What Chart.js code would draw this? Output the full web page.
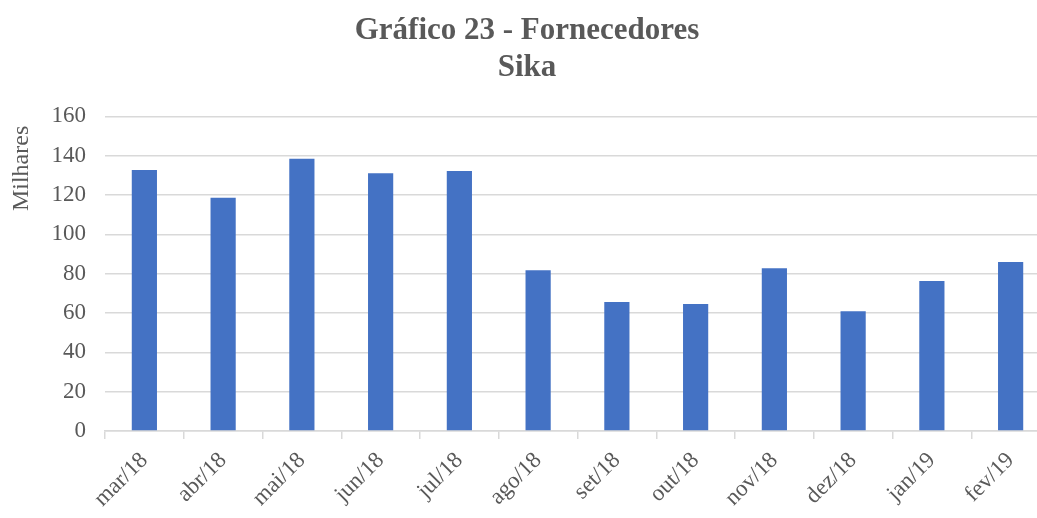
<!DOCTYPE html>
<html>
<head>
<meta charset="utf-8">
<script src="https://cdn.jsdelivr.net/npm/chart.js@4.4.0/dist/chart.umd.min.js"></script>
<style>
  html, body { margin: 0; padding: 0; background: #fff; overflow: hidden; }
  #wrap { width: 1054px; height: 518px; }
</style>
</head>
<body>
<div id="wrap"><canvas id="fornecedoresChart" width="1054" height="518"></canvas></div>
<script>
// dados do gráfico (milhares)
const meses = ['mar/18', 'abr/18', 'mai/18', 'jun/18', 'jul/18', 'ago/18',
               'set/18', 'out/18', 'nov/18', 'dez/18', 'jan/19', 'fev/19'];
const valores = [132.7, 118.6, 138.4, 131.1, 132.2, 81.8, 65.6, 64.6, 82.8, 60.9, 76.3, 86.0];
const tituloLinhas = ['Gráfico 23 - Fornecedores', 'Sika'];
const eixoY = { min: 0, max: 160, passo: 20, titulo: 'Milhares' };

const cinza = '#595959';
const grade = '#d9d9d9';
const fonte = "'Liberation Serif', 'DejaVu Serif', serif";

// rótulo de unidade "Milhares" perto do topo do eixo, como no Excel
const rotuloUnidade = {
    id: 'rotuloUnidade',
    afterDraw(chart) {
        const c = chart.ctx;
        const area = chart.chartArea;
        c.save();
        c.translate(22, area.top + 52);
        c.rotate(-Math.PI / 2);
        c.fillStyle = cinza;
        c.font = '24px ' + fonte;
        c.textAlign = 'center';
        c.textBaseline = 'middle';
        c.fillText(eixoY.titulo, 0, 0);
        c.restore();
    }
};

const ctx = document.getElementById('fornecedoresChart').getContext('2d');
new Chart(ctx, {
    type: 'bar',
    data: {
        labels: meses,
        datasets: [{
            label: 'Sika',
            data: valores,
            backgroundColor: '#4472c4',
            borderWidth: 0,
            barPercentage: 0.32,
            categoryPercentage: 1.0
        }]
    },
    plugins: [rotuloUnidade],
    options: {
        responsive: false,
        animation: false,
        layout: { padding: { left: 4, right: 4, top: 0, bottom: 0 } },
        plugins: {
            legend: { display: false },
            tooltip: { enabled: false },
            title: {
                display: true,
                text: tituloLinhas,
                color: cinza,
                font: { family: fonte, size: 31, weight: 'bold', lineHeight: 1.2 },
                padding: { top: 12, bottom: 30 }
            }
        },
        scales: {
            x: {
                offset: true,
                grid: {
                    drawOnChartArea: false,
                    drawTicks: true,
                    tickLength: 8,
                    color: grade,
                    lineWidth: 1.5
                },
                border: { color: grade, width: 1.5 },
                ticks: {
                    color: cinza,
                    font: { family: fonte, size: 23 },
                    minRotation: 45,
                    maxRotation: 45,
                    padding: 8
                },
                afterFit: (scale) => { scale.height = 87; }
            },
            y: {
                min: eixoY.min,
                max: eixoY.max,
                ticks: {
                    stepSize: eixoY.passo,
                    color: cinza,
                    font: { family: fonte, size: 23 },
                    padding: 19
                },
                grid: { color: grade, lineWidth: 1.5, drawTicks: false },
                border: { display: false },
                afterFit: (scale) => { scale.width = 101; }
            }
        }
    }
});
</script>
</body>
</html>
